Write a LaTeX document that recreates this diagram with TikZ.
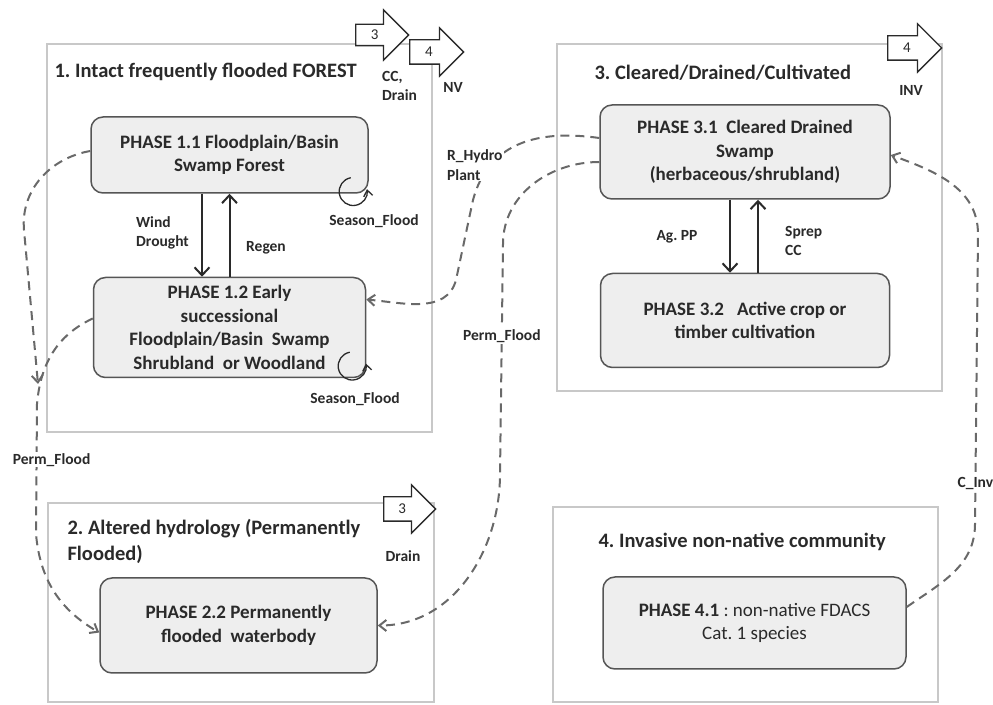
\documentclass[tikz,border=0pt]{standalone}
\usepackage{fontspec}
\setmainfont{Carlito}
\frenchspacing
\usepackage{tikz}
\usetikzlibrary{arrows.meta,positioning,calc,shapes.arrows}
\usepackage{xcolor}
\definecolor{framegray}{HTML}{C8C8C8}
\definecolor{phasefill}{HTML}{EEEEEE}
\definecolor{phaseline}{HTML}{555555}
\definecolor{flowgray}{HTML}{696969}
\definecolor{inkgray}{HTML}{2A2A2A}
\tikzset{
  groupbox/.style={draw=framegray,line width=1.6pt,fill=white,inner sep=0pt},
  phasebox/.style={draw=phaseline,fill=phasefill,line width=1.5pt,rounded corners=12pt,align=center,text=inkgray,inner sep=4pt,font=\fontsize{19}{23.5}\selectfont\bfseries},
  grouptitle/.style={anchor=west,align=left,text=inkgray,font=\fontsize{20.5}{26}\selectfont\bfseries},
  flowlabel/.style={align=left,text=inkgray,font=\fontsize{15.5}{19.5}\selectfont\bfseries,inner sep=1pt},
  shiftarrow/.style={single arrow,draw=inkgray,fill=white,line width=1.3pt,minimum height=53pt,inner sep=11.5pt,single arrow head extend=12pt,anchor=tail},
  arrownum/.style={text=inkgray,font=\fontsize{15}{15}\selectfont},
  change/.style={-{Straight Barb[length=8pt,width=15pt]},line width=2pt,draw=inkgray},
  transition/.style={-{Straight Barb[length=7pt,width=11pt]},line width=2pt,draw=flowgray,dash pattern=on 9pt off 6pt},
  seasonloop/.style={-{Straight Barb[length=6pt,width=9pt]},line width=1.3pt,draw=inkgray}
}
\begin{document}
\begin{tikzpicture}[x=1pt,y=1pt]
  \useasboundingbox (0,0) rectangle (993,704);
  \node[groupbox,minimum width=385pt,minimum height=388pt] (forest) at (239.5,466) {};
  \node[groupbox,minimum width=386pt,minimum height=199pt] (altered) at (241,101.5) {};
  \node[groupbox,minimum width=385pt,minimum height=347pt] (cleared) at (749.5,486.5) {};
  \node[groupbox,minimum width=385pt,minimum height=195pt] (invasive) at (745.5,99.5) {};
  \node[grouptitle] (forestttl) at (51,632) {1. Intact frequently flooded FOREST};
  \node[grouptitle] (alteredttl) at (64,163) {2. Altered hydrology (Permanently\\Flooded)};
  \node[grouptitle] (clearedttl) at (591,631) {3. Cleared/Drained/Cultivated};
  \node[grouptitle] (invasivettl) at (595,162) {4. Invasive non-native community};
  \node[phasebox,minimum width=277pt,minimum height=76pt] (p11) at (229.5,549) {PHASE 1.1 Floodplain/Basin\\Swamp Forest};
  \node[phasebox,minimum width=272pt,minimum height=100pt,below=83pt of p11] (p12) {PHASE 1.2 Early\\successional\\Floodplain/Basin\ \ Swamp\\Shrubland\ \ or Woodland};
  \node[phasebox,minimum width=290pt,minimum height=94pt] (p31) at (745,552) {PHASE 3.1\ \ Cleared Drained\\Swamp\\(herbaceous/shrubland)};
  \node[phasebox,minimum width=289pt,minimum height=94pt,below=73pt of p31] (p32) {PHASE 3.2\ \ \ Active crop or\\timber cultivation};
  \node[phasebox,minimum width=277pt,minimum height=95pt] (p22) at (238.5,78.5) {PHASE 2.2 Permanently\\flooded\ \ waterbody};
  \node[phasebox,minimum width=303pt,minimum height=92pt] (p41) at (754.5,81) {PHASE 4.1 {\mdseries: non-native FDACS}\\{\mdseries Cat. 1 species}};
  \node[shiftarrow,inner sep=10pt,single arrow head extend=14.5pt] (toclear) at (355,669) {};
  \node[arrownum] (toclearnum) at ($(toclear.tail)!0.36!(toclear.tip)$) {3};
  \node[shiftarrow,minimum height=54pt] (toinv) at (409,652) {};
  \node[arrownum] (toinvnum) at ($(toinv.tail)!0.36!(toinv.tip)$) {4};
  \node[shiftarrow,minimum height=54pt] (clearinv) at (887,656) {};
  \node[arrownum] (clearinvnum) at ($(clearinv.tail)!0.36!(clearinv.tip)$) {4};
  \node[shiftarrow,minimum height=52pt] (altclear) at (383,195) {};
  \node[arrownum] (altclearnum) at ($(altclear.tail)!0.36!(altclear.tip)$) {3};
  \node[flowlabel,anchor=west] (ccdrain) at (381,618) {CC,\\Drain};
  \node[flowlabel] (nv) at (453,617) {NV};
  \node[flowlabel] (inv) at (911,614) {INV};
  \node[flowlabel] (drain) at (403,148) {Drain};
  \draw[change] ([xshift=-27.5pt]p11.south) -- ([xshift=-27.5pt]p12.north);
  \draw[change] (p12.north) -- (p11.south);
  \draw[change] ([xshift=-15pt]p31.south) -- ([xshift=-15pt]p32.north);
  \draw[change] ([xshift=13pt]p32.north) -- ([xshift=13pt]p31.south);
  \node[flowlabel,anchor=west] (wind) at (135,471) {Wind\\Drought};
  \node[flowlabel] (regen) at (266,456) {Regen};
  \node[flowlabel] (agpp) at (677,467) {Ag. PP};
  \node[flowlabel,anchor=west] (sprep) at (784,463) {Sprep\\CC};
  \draw[seasonloop] ([shift={(-18,16)}]p11.south east) arc[start angle=100,end angle=370,radius=14pt];
  \draw[seasonloop] ([shift={(-16.5,26)}]p12.south east) arc[start angle=100,end angle=370,radius=14pt];
  \node[flowlabel] (season1) at (374,483) {Season\_Flood};
  \node[flowlabel] (season2) at (355,305) {Season\_Flood};
  \coordinate (permjoin) at (38,320);
  \draw[transition] ([shift={(0,4)}]p11.west) to[out=190,in=95] (24,474) -- (permjoin);
  \draw[transition] ([shift={(0,9)}]p12.west) to[out=205,in=85] (37,300) -- node[flowlabel,fill=white,pos=0.43,xshift=15pt] (permleft) {Perm\_Flood} (36,170) to[out=-85,in=150] ([shift={(0,-7)}]p22.west);
  \draw[transition] ([shift={(0,14)}]p31.west) to[out=172,in=75,looseness=1.1] (473,504) -- (456,424) to[out=-105,in=-5] ([shift={(0,28)}]p12.east);
  \node[flowlabel,anchor=west,fill=white] (hydro) at (446,539) {R\_Hydro\\Plant};
  \draw[transition] ([shift={(0,-10)}]p31.west) to[out=180,in=90] (503,460) -- node[flowlabel,fill=white,pos=0.4] (permright) {Perm\_Flood} (500,230) to[out=-90,in=0] (p22.east);
  \draw[transition] ([shift={(0,16)}]p41.east) to[out=35,in=-90] (975,180) -- node[flowlabel,fill=white,pos=0.14] (cinv) {C\_Inv} (978,470) to[out=90,in=-20] ([shift={(0,-3)}]p31.east);
\end{tikzpicture}
\end{document}
